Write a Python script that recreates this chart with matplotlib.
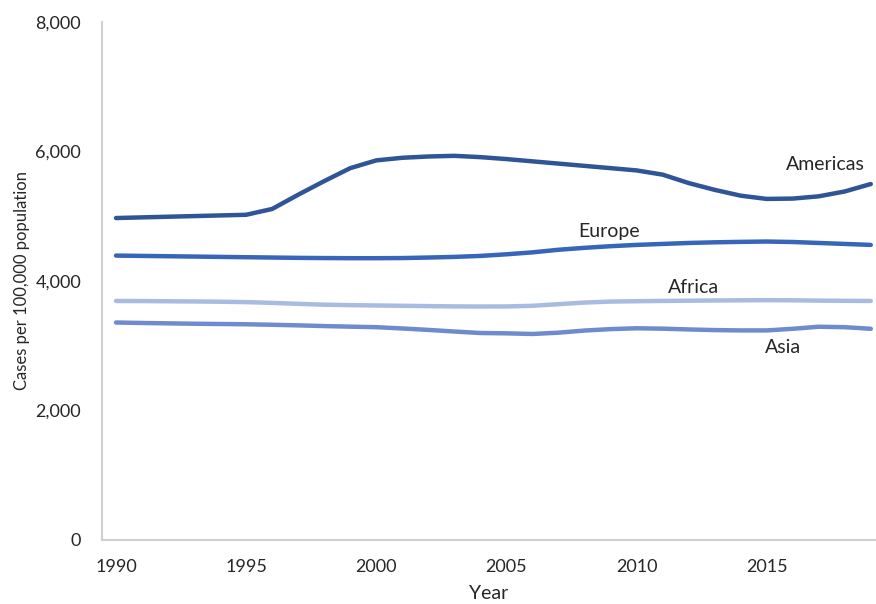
import matplotlib
matplotlib.use("Agg")
import matplotlib.pyplot as plt
from matplotlib.ticker import FuncFormatter

plt.rcParams['font.family'] = ['Lato', 'DejaVu Sans']

years = list(range(1990, 2020))

americas = [4970, 4980, 4990, 5000, 5010, 5020, 5110, 5330, 5540, 5740,
            5860, 5900, 5920, 5930, 5910, 5880, 5845, 5810, 5775, 5740,
            5705, 5640, 5510, 5405, 5315, 5265, 5270, 5305, 5380, 5495]
europe = [4390, 4385, 4380, 4375, 4370, 4365, 4360, 4355, 4352, 4350,
          4350, 4352, 4360, 4370, 4385, 4410, 4440, 4480, 4510, 4535,
          4555, 4570, 4585, 4595, 4602, 4607, 4600, 4585, 4570, 4555]
africa = [3690, 3688, 3685, 3682, 3678, 3672, 3660, 3645, 3632, 3625,
          3620, 3615, 3610, 3606, 3604, 3605, 3615, 3640, 3665, 3680,
          3686, 3690, 3694, 3697, 3700, 3702, 3700, 3695, 3692, 3690]
asia = [3357, 3350, 3344, 3338, 3334, 3330, 3322, 3313, 3302, 3293,
        3285, 3265, 3243, 3218, 3195, 3190, 3180, 3200, 3233, 3255,
        3268, 3262, 3250, 3240, 3235, 3235, 3260, 3292, 3285, 3260]

series = [("Americas", americas, "#2f5597"),
          ("Europe", europe, "#3765b8"),
          ("Africa", africa, "#a9bbe0"),
          ("Asia", asia, "#6d8bcd")]

# where each series name sits (year, value)
label_pos = {"Americas": (2017.27, 5790),
             "Europe": (2008.93, 4757),
             "Africa": (2012.19, 3892),
             "Asia": (2015.61, 2965)}

fig = plt.figure(figsize=(8.76, 6.04), dpi=100)
ax = fig.add_axes([0.1164, 0.106, 0.8836, 0.858])

for name, vals, col in series:
    ax.plot(years, vals, color=col, linewidth=3.2, solid_capstyle='round',
            solid_joinstyle='round')
    lx, ly = label_pos[name]
    ax.text(lx, ly, name, fontsize=14, color='#262626', ha='center', va='center')

ax.set_xlim(1989.46, 2019.2)
ax.set_ylim(0, 8000)
ax.set_xticks([1990, 1995, 2000, 2005, 2010, 2015])
ax.set_yticks([0, 2000, 4000, 6000, 8000])
ax.yaxis.set_major_formatter(FuncFormatter(lambda v, p: f"{int(v):,}"))
ax.tick_params(length=0, labelsize=13, labelcolor='#262626')
ax.tick_params(axis='y', pad=15)
ax.tick_params(axis='x', pad=14)

for s in ['top', 'right']:
    ax.spines[s].set_visible(False)
for s in ['left', 'bottom']:
    ax.spines[s].set_color('#d0d0d0')
    ax.spines[s].set_linewidth(1.5)

ax.set_xlabel("Year", fontsize=14, color='#262626', labelpad=7)
ax.set_ylabel("Cases per 100,000 population", fontsize=12, color='#262626', labelpad=4)

fig.savefig("out.png", dpi=100)
